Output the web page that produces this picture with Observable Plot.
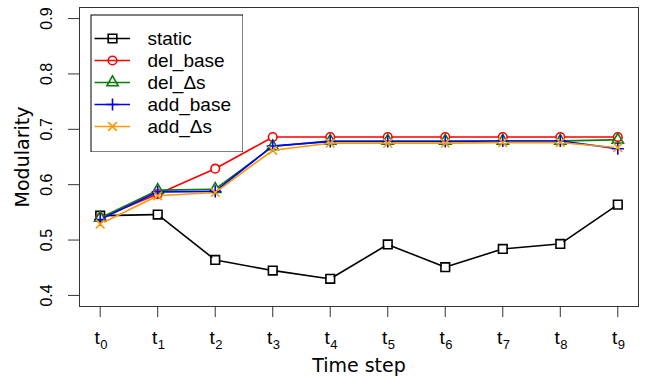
<!DOCTYPE html>
<html>
<head>
<meta charset="utf-8">
<script src="https://cdn.jsdelivr.net/npm/d3@7"></script>
<script src="https://cdn.jsdelivr.net/npm/@observablehq/plot@0.6"></script>
<style>
  html, body { margin: 0; padding: 0; background: #fff; }
  #chart { position: relative; width: 645px; height: 383px; }
  #legend { position: absolute; left: 90px; top: 14px; }
</style>
</head>
<body>
<div id="chart"><div id="legend"></div></div>
<script>
// Time steps t0..t9 and their subscript labels
const steps = [0, 1, 2, 3, 4, 5, 6, 7, 8, 9];
const stepLabels = ["0", "1", "2", "3", "4", "5", "6", "7", "8", "9"];
const yTicks = [0.4, 0.5, 0.6, 0.7, 0.8, 0.9];

// Modularity per time step for each strategy
const staticVals  = [0.544, 0.546, 0.464, 0.445, 0.430, 0.492, 0.451, 0.484, 0.493, 0.564];
const delBase     = [0.540, 0.583, 0.629, 0.686, 0.686, 0.686, 0.686, 0.686, 0.686, 0.686];
const delDs       = [0.540, 0.590, 0.592, 0.669, 0.679, 0.679, 0.679, 0.679, 0.679, 0.681];
const addBase     = [0.537, 0.587, 0.588, 0.670, 0.678, 0.678, 0.678, 0.679, 0.679, 0.665];
const addDs       = [0.529, 0.580, 0.586, 0.662, 0.675, 0.675, 0.675, 0.676, 0.676, 0.667];

const seriesNames = ["static", "del_base", "del_\u0394s", "add_base", "add_\u0394s"];
const seriesValues = [staticVals, delBase, delDs, addBase, addDs];

// Drawing styles (R-like pch 0..4)
const styles = [
  {color: "#000000", symbol: "square2",   r: 5.5},
  {color: "#ff0000", symbol: "circle",    r: 4.3},
  {color: "#0a7d0a", symbol: "triangle2", r: 5.4},
  {color: "#0000ff", symbol: "plus",      r: 4.0},
  {color: "#ff9900", symbol: "times",     r: 4.0}
];

const series = seriesNames.map((name, k) => ({
  name,
  points: steps.map((s, i) => ({x: s, y: seriesValues[k][i]})),
  segments: d3.pairs(steps.map((s, i) => ({x: s, y: seriesValues[k][i]})))
    .map(([a, b]) => ({x1: a.x, y1: a.y, x2: b.x, y2: b.y})),
  ...styles[k]
}));

const lineWidth = 1.6;

const seriesMarks = series.flatMap(s => [
  // joined with small gaps around the points (type "b")
  Plot.arrow(s.segments, {
    x1: "x1", y1: "y1", x2: "x2", y2: "y2",
    stroke: s.color, strokeWidth: lineWidth,
    bend: 0, headLength: 0, inset: 4.5
  }),
  Plot.dot(s.points, {
    x: "x", y: "y", symbol: () => s.symbol, r: s.r,
    stroke: s.color, strokeWidth: lineWidth, fill: "none"
  })
]);

const chart = Plot.plot({
  width: 645,
  height: 383,
  marginLeft: 79,
  marginRight: 7,
  marginTop: 7,
  marginBottom: 77,
  style: {fontFamily: "'Liberation Sans', Arial, sans-serif", background: "#fff", color: "#000"},
  x: {domain: [-0.36, 9.36], axis: null},
  y: {domain: [0.38, 0.92], axis: null},
  symbol: {type: "identity"},
  marks: [
    Plot.axisX({ticks: steps, tickSize: 11, tickFormat: () => "", label: null, stroke: "#333"}),
    Plot.axisY({ticks: yTicks, tickSize: 11, tickFormat: () => "", label: null, stroke: "#333"}),
    // y tick labels, parallel to the axis
    Plot.text(yTicks, {
      y: d => d, text: d => d.toFixed(1), frameAnchor: "left",
      dx: -33, rotate: -90, textAnchor: "middle", lineAnchor: "middle",
      fontSize: 16, fill: "#000"
    }),
    // x tick labels: "t" with a subscript step number
    Plot.text(steps, {
      x: d => d, text: () => "t", frameAnchor: "bottom",
      dy: 37, dx: -0.5, textAnchor: "end", lineAnchor: "bottom",
      fontSize: 19, fill: "#000"
    }),
    Plot.text(stepLabels, {
      x: (d, i) => steps[i], text: d => d, frameAnchor: "bottom",
      dy: 42, dx: 0, textAnchor: "start", lineAnchor: "bottom",
      fontSize: 13, fill: "#000"
    }),
    // axis titles
    Plot.text(["Time step"], {
      text: d => d, frameAnchor: "bottom", dy: 65, lineAnchor: "bottom",
      fontSize: 19, fontFamily: "'DejaVu Sans', sans-serif", fill: "#000"
    }),
    Plot.text(["Modularity"], {
      text: d => d, frameAnchor: "left", dx: -51, rotate: -90,
      lineAnchor: "bottom", textAnchor: "middle",
      fontSize: 19, fontFamily: "'DejaVu Sans', sans-serif", fill: "#000"
    }),
    ...seriesMarks,
    Plot.frame({stroke: "#333", strokeWidth: 1})
  ]
});

document.getElementById("chart").prepend(chart);

// Legend box inside the plotting region
const legendRows = series.map(s => ({name: s.name, color: s.color, symbol: s.symbol, r: s.r}));
const legend = Plot.plot({
  width: 153,
  height: 138,
  margin: 0,
  style: {fontFamily: "'Liberation Sans', Arial, sans-serif", background: "#fff", color: "#000"},
  x: {domain: [0, 153], range: [0, 153], axis: null},
  y: {domain: seriesNames, range: [22, 113.7], type: "point", padding: 0, axis: null},
  symbol: {type: "identity"},
  r: {type: "identity"},
  marks: [
    Plot.ruleY(legendRows, {y: "name", x1: 4.5, x2: 40, stroke: "color", strokeWidth: lineWidth}),
    Plot.dot(legendRows, {
      x: 22, y: "name", symbol: "symbol", r: "r",
      stroke: "color", strokeWidth: lineWidth, fill: "none"
    }),
    Plot.text(legendRows, {
      x: 57, y: "name", text: "name", textAnchor: "start", lineAnchor: "middle",
      fontSize: 19, fill: "#000"
    }),
    Plot.frame({stroke: "#000", strokeWidth: 1, inset: 0.5})
  ]
});
legend.style.display = "block";
document.getElementById("legend").append(legend);
</script>
</body>
</html>
